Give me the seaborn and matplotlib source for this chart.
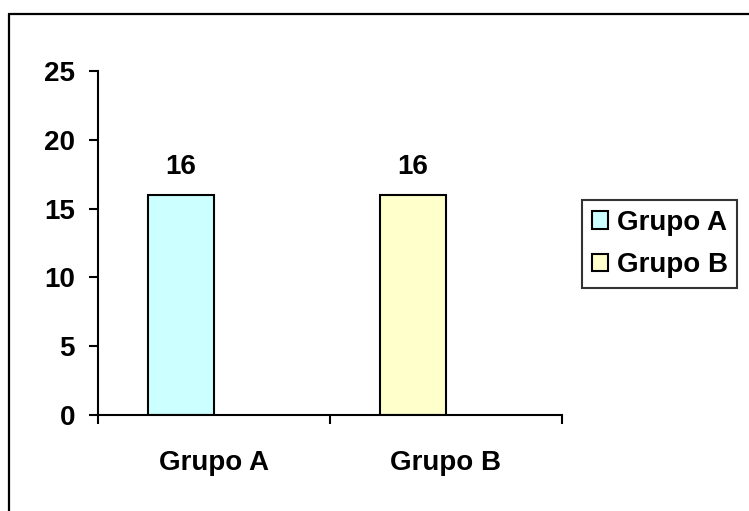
import matplotlib
matplotlib.use("Agg")
import matplotlib.pyplot as plt
from matplotlib.lines import Line2D
from matplotlib.patches import Patch
import seaborn as sns
import pandas as pd

# Chart data
categories = ["Grupo A", "Grupo B"]
series = ["Valores", "Vacío"]
values = [16, 16]
bar_colors = ["#CCFFFF", "#FFFFCC"]
y_ticks = [0, 5, 10, 15, 20, 25]

df = pd.DataFrame({
    "categoria": categories,
    "serie": [series[0]] * len(categories),
    "valor": values,
})

sns.set_theme(style="white")
plt.rcParams["font.family"] = ["Liberation Sans", "DejaVu Sans"]
plt.rcParams["font.weight"] = "bold"
plt.rcParams["text.color"] = "black"
plt.rcParams["xtick.color"] = "black"
plt.rcParams["ytick.color"] = "black"
plt.rcParams["axes.labelcolor"] = "black"

fig = plt.figure(figsize=(7.49, 5.11), dpi=100)
ax = fig.add_axes([98 / 749, 1 - 415 / 511, (562 - 98) / 749, (415 - 71) / 511])

sns.barplot(
    data=df, x="categoria", y="valor", hue="serie",
    order=categories, hue_order=series,
    width=4 / 7, dodge=True, ax=ax, legend=False,
    edgecolor="black", linewidth=1.5, saturation=1,
)

# colour each bar by its category
for patch, color in zip(ax.containers[0], bar_colors):
    patch.set_facecolor(color)

ax.bar_label(ax.containers[0], labels=[f"{v:g}" for v in values],
             padding=11, fontsize=20, fontweight="bold", color="black")

# axes
ax.set_ylim(y_ticks[0], y_ticks[-1])
ax.set_yticks(y_ticks)
ax.set_xlim(-0.5, len(categories) - 0.5)
ax.set_xticks([i - 0.5 for i in range(len(categories) + 1)])
ax.set_xticklabels([])
ax.set_xticks(range(len(categories)), minor=True)
ax.set_xticklabels(categories, minor=True)
ax.set_xlabel("")
ax.set_ylabel("")

for side in ["top", "right"]:
    ax.spines[side].set_visible(False)
for side in ["left", "bottom"]:
    ax.spines[side].set_color("black")
    ax.spines[side].set_linewidth(1.5)

ax.tick_params(axis="y", which="major", length=6.5, width=1.5, color="black",
               labelcolor="black", direction="out", left=True, pad=10, labelsize=20)
ax.tick_params(axis="x", which="major", length=6.5, width=1.5, color="black",
               direction="out", bottom=True)
ax.tick_params(axis="x", which="minor", length=0, pad=25, labelsize=20,
               labelcolor="black")
for lbl in ax.get_yticklabels() + ax.get_xticklabels(minor=True):
    lbl.set_fontweight("bold")

# legend
handles = [Patch(facecolor=c, edgecolor="black", linewidth=1.5) for c in bar_colors]
leg = fig.legend(
    handles, categories, loc="upper left",
    bbox_to_anchor=(582 / 749, 1 - 200 / 511), bbox_transform=fig.transFigure,
    borderaxespad=0, frameon=True, fancybox=False, shadow=False,
    prop={"size": 20, "weight": "bold"},
    handlelength=0.6, handleheight=0.6, handletextpad=0.3,
    borderpad=0.35, labelspacing=0.6,
)
leg.get_frame().set_edgecolor("black")
leg.get_frame().set_linewidth(1.5)
for t in leg.get_texts():
    t.set_color("black")

# chart area border (left and top edges)
fig.add_artist(Line2D([9 / 749, 9 / 749], [0, 1 - 14 / 511],
                      transform=fig.transFigure, color="black", linewidth=1.6))
fig.add_artist(Line2D([9 / 749, 1], [1 - 14 / 511, 1 - 14 / 511],
                      transform=fig.transFigure, color="black", linewidth=1.6))

fig.savefig("out.png", dpi=100, facecolor="white")
